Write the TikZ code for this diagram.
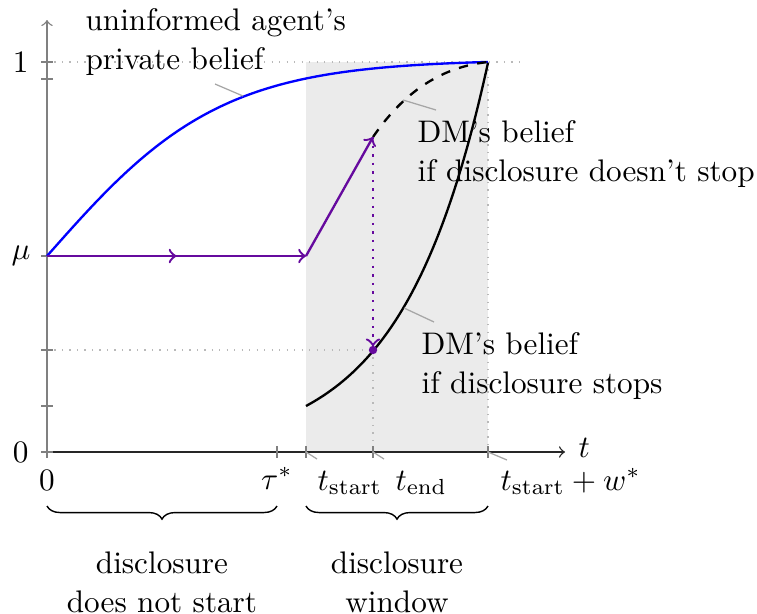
\documentclass[tikz,border=0pt]{standalone}
\usetikzlibrary{decorations.markings,decorations.pathreplacing}
\definecolor{pathviolet}{RGB}{102,10,158}
\definecolor{windowshade}{RGB}{235,235,235}
\definecolor{axisgray}{RGB}{128,128,128}
\begin{document}
\begin{tikzpicture}[x=0.3205pt,y=-0.3205pt,
  every node/.style={inner sep=0pt},
  txt/.style={font=\fontsize{10pt}{12.5pt}\selectfont},
  yaxis/.style={axisgray,line width=0.45pt,->},
  xaxis/.style={black!85,line width=0.45pt,->},
  tickmark/.style={axisgray,line width=0.4pt},
  guide/.style={gray!55,dotted,line width=0.4pt},
  pinline/.style={gray!70,line width=0.4pt},
  curve/.style={line width=0.75pt},
  private/.style={curve,blue},
  violetpath/.style={curve,pathviolet},
  midarrow/.style={postaction={decorate},
    decoration={markings,mark=at position 0.5 with {\arrow{to}}}},
  underbrace/.style={decorate,decoration={brace,mirror,amplitude=4.2pt},line width=0.45pt}
]
\useasboundingbox (0,0) rectangle (757,614);

% disclosure window
\fill[windowshade] (306,62) rectangle (488,452);

% dotted guide lines
\draw[guide] (47,62) -- (522,62);
\draw[guide] (47,350) -- (373,350);
\draw[guide] (373,350) -- (373,452);
\draw[guide] (488,62) -- (488,452);

% axes
\coordinate (O) at (47,452);
\coordinate (xend) at (565,452);
\coordinate (yend) at (47,20);
\draw[xaxis] (O) -- (xend);
\draw[yaxis] (O) -- (yend);
\foreach \y in {62,79,256,350,406,452} \draw[tickmark] (41,\y) -- (53,\y);
\foreach \x in {47,277,306,373,488} \draw[tickmark] (\x,446) -- (\x,458);

% beliefs
\draw[private] plot[domain=47:488,samples=120] (\x,{256-196.5*tanh(0.00575*(\x-47))});
\draw[curve] plot[domain=306:488,samples=80] (\x,{452-46*exp(0.01174*(\x-306))});
\coordinate (peak) at (373,137);
\coordinate (top) at (488,62);
\draw[curve,dashed] (peak) .. controls (395,105) and (430,68) .. (top);

% path of the DM's belief
\coordinate (mu) at (47,256);
\coordinate (tau0) at (306,256);
\coordinate (drop) at (373,350);
\draw[violetpath,midarrow,->] (mu) -- (tau0);
\draw[violetpath,->] (tau0) -- (peak);
\draw[violetpath,dotted,->] (peak) -- ([yshift=1.2pt]drop);
\fill[pathviolet] (drop) circle (1.35pt);

% axis labels
\node[txt,anchor=east] (ylabone) at (29,62) {$1$};
\node[txt,anchor=east] (ylabmu) at (31,256) {$\mu$};
\node[txt,anchor=east] (ylabzero) at (29,452) {$0$};
\node[txt,anchor=north] (xlabzero) at (47,470) {$0$};
\node[txt,anchor=north] (xlabtau) at (277,467) {$\tau^*$};
\node[txt,anchor=base west] (xlabstart) at (317,490) {$t_{\mathrm{start}}$};
\node[txt,anchor=base west] (xlabend) at (395,490) {$t_{\mathrm{end}}$};
\node[txt,anchor=base west] (xlabwin) at (500,490) {$t_{\mathrm{start}}+w^*$};
\node[txt,anchor=base west] (tlab) at (578,457) {$t$};

% pins of the tick labels
\coordinate (startpin) at (317,459);
\coordinate (endpin) at (384,459);
\coordinate (winpin) at (507,460);
\draw[pinline] (306,452) -- (startpin);
\draw[pinline] (373,452) -- (endpin);
\draw[pinline] (488,452) -- (winpin);

% curve labels and their pins
\node[txt,anchor=north west,align=left] (privlab) at (85,8) {uninformed agent's\\private belief};
\node[txt,anchor=north west,align=left] (nostoplab) at (417,120) {DM's belief\\if disclosure doesn't stop};
\node[txt,anchor=north west,align=left] (stoplab) at (421,332) {DM's belief\\if disclosure stops};
\coordinate (privcurve) at (243,96);
\coordinate (privtip) at (215,84);
\coordinate (nostopcurve) at (403,100);
\coordinate (nostoptip) at (436,110);
\coordinate (stopcurve) at (404,308);
\coordinate (stoptip) at (434,322);
\draw[pinline] (privcurve) -- (privtip);
\draw[pinline] (nostopcurve) -- (nostoptip);
\draw[pinline] (stopcurve) -- (stoptip);

% phases
\draw[underbrace] (47,506) -- (277,506);
\draw[underbrace] (306,506) -- (488,506);
\node[txt,anchor=north,align=center] (phaseone) at (162,551) {disclosure\\does not start};
\node[txt,anchor=north,align=center] (phasetwo) at (397,551) {disclosure\\window};
\end{tikzpicture}
\end{document}
